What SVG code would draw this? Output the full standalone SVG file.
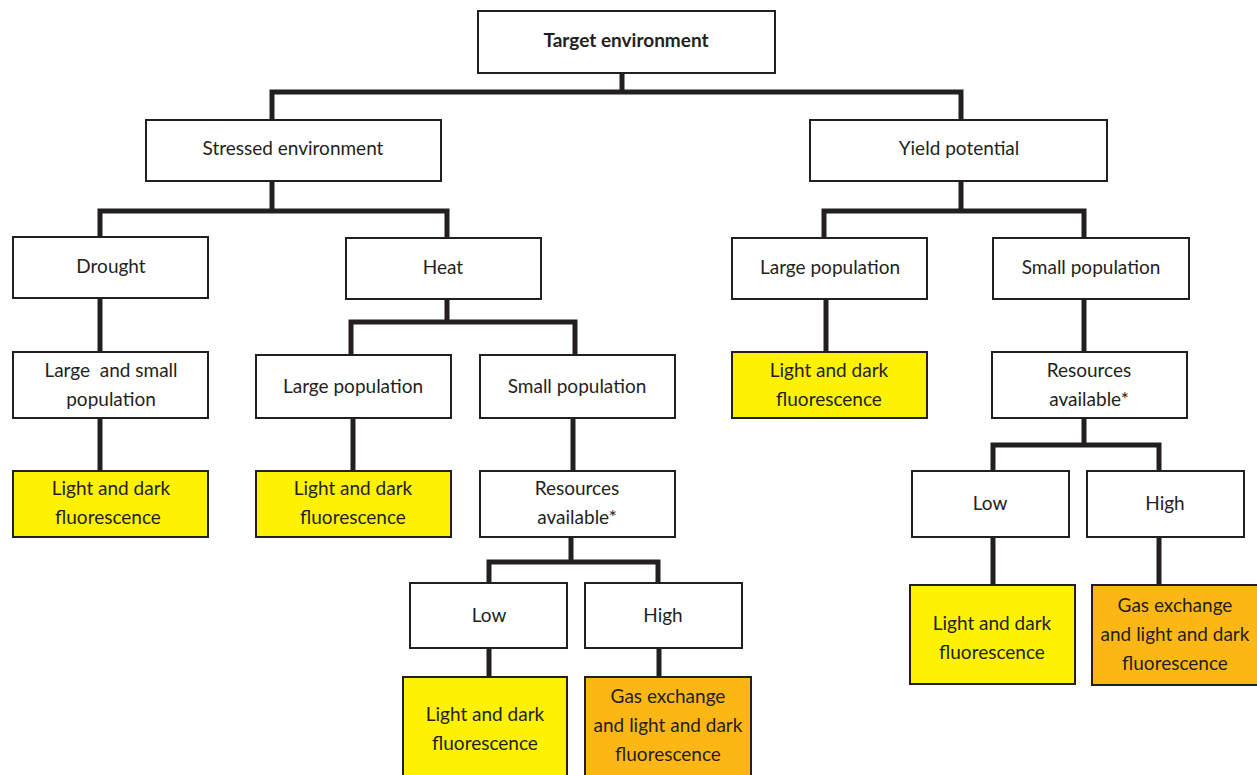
<svg xmlns="http://www.w3.org/2000/svg" width="1257" height="775" viewBox="0 0 1257 775">
<style>
.b{fill:#fff;stroke:#231f20;stroke-width:2}
.y{fill:#fff200;stroke:#231f20;stroke-width:2}
.o{fill:#fdb714;stroke:#231f20;stroke-width:2}
text{font-family:Lato,"Open Sans",sans-serif;font-size:19px;fill:#231f20;text-anchor:middle}
.bold{font-weight:bold}
#connectors path{fill:none;stroke:#231f20;stroke-width:5;stroke-linejoin:miter}
</style>
<rect width="1257" height="775" fill="#fff"/>
<g id="connectors">
<path d="M622,73V92M272,120V92H961V120"/>
<path d="M272,181V211M100,237V211H447V238"/>
<path d="M961,181V211M824,238V211H1084V238"/>
<path d="M100,298V352"/>
<path d="M100,418V471"/>
<path d="M447,299V322M351,355V322H575V355"/>
<path d="M353,418V471"/>
<path d="M573,418V471"/>
<path d="M571,537V562M489,583V562H658V583"/>
<path d="M489,648V677"/>
<path d="M659,648V677"/>
<path d="M826,299V352"/>
<path d="M1084,299V352"/>
<path d="M1084,418V445M993,471V445H1159V471"/>
<path d="M993,537V585"/>
<path d="M1159,537V585"/>
</g>
<g id="target"><rect class="b" x="478" y="11" width="297" height="62"/><text class="bold" x="626" y="47">Target environment</text></g>
<g id="stressed"><rect class="b" x="146" y="120" width="295" height="61"/><text x="293" y="155">Stressed environment</text></g>
<g id="yield"><rect class="b" x="810" y="120" width="297" height="61"/><text x="959" y="155">Yield potential</text></g>
<g id="drought"><rect class="b" x="13" y="237" width="195" height="61"/><text x="111" y="273">Drought</text></g>
<g id="heat"><rect class="b" x="346" y="238" width="195" height="61"/><text x="443" y="274">Heat</text></g>
<g id="yield-large"><rect class="b" x="732" y="238" width="195" height="61"/><text x="830" y="274">Large population</text></g>
<g id="yield-small"><rect class="b" x="993" y="238" width="196" height="61"/><text x="1091" y="274">Small population</text></g>
<g id="drought-pop"><rect class="b" x="13" y="352" width="195" height="66"/><text x="111" y="377" style="white-space:pre">Large  and small</text><text x="111" y="406">population</text></g>
<g id="heat-large"><rect class="b" x="256" y="355" width="195" height="63"/><text x="353" y="393">Large population</text></g>
<g id="heat-small"><rect class="b" x="480" y="355" width="195" height="63"/><text x="577" y="393">Small population</text></g>
<g id="drought-ld"><rect class="y" x="13" y="471" width="195" height="66"/><text x="111" y="495">Light and dark</text><text x="108" y="524">fluorescence</text></g>
<g id="heat-large-ld"><rect class="y" x="256" y="471" width="195" height="66"/><text x="353" y="495">Light and dark</text><text x="353" y="524">fluorescence</text></g>
<g id="heat-res"><rect class="b" x="480" y="471" width="195" height="66"/><text x="577" y="495">Resources</text><text x="577" y="524">available*</text></g>
<g id="heat-low"><rect class="b" x="410" y="583" width="157" height="65"/><text x="489" y="622">Low</text></g>
<g id="heat-high"><rect class="b" x="585" y="583" width="157" height="65"/><text x="663" y="622">High</text></g>
<g id="heat-low-ld"><rect class="y" x="403" y="677" width="164" height="100"/><text x="485" y="721">Light and dark</text><text x="485" y="750">fluorescence</text></g>
<g id="heat-high-gas"><rect class="o" x="585" y="677" width="166" height="100"/><text x="668" y="703">Gas exchange</text><text x="668" y="732">and light and dark</text><text x="668" y="761">fluorescence</text></g>
<g id="yield-large-ld"><rect class="y" x="732" y="352" width="195" height="66"/><text x="829" y="377">Light and dark</text><text x="829" y="406">fluorescence</text></g>
<g id="yield-res"><rect class="b" x="992" y="352" width="195" height="66"/><text x="1089" y="377">Resources</text><text x="1089" y="406">available*</text></g>
<g id="yield-low"><rect class="b" x="912" y="471" width="157" height="66"/><text x="990" y="510">Low</text></g>
<g id="yield-high"><rect class="b" x="1087" y="471" width="157" height="66"/><text x="1165" y="510">High</text></g>
<g id="yield-low-ld"><rect class="y" x="910" y="585" width="165" height="99"/><text x="992" y="630">Light and dark</text><text x="992" y="659">fluorescence</text></g>
<g id="yield-high-gas"><rect class="o" x="1092" y="585" width="166" height="100"/><text x="1175" y="612">Gas exchange</text><text x="1175" y="641">and light and dark</text><text x="1175" y="670">fluorescence</text></g>
</svg>
